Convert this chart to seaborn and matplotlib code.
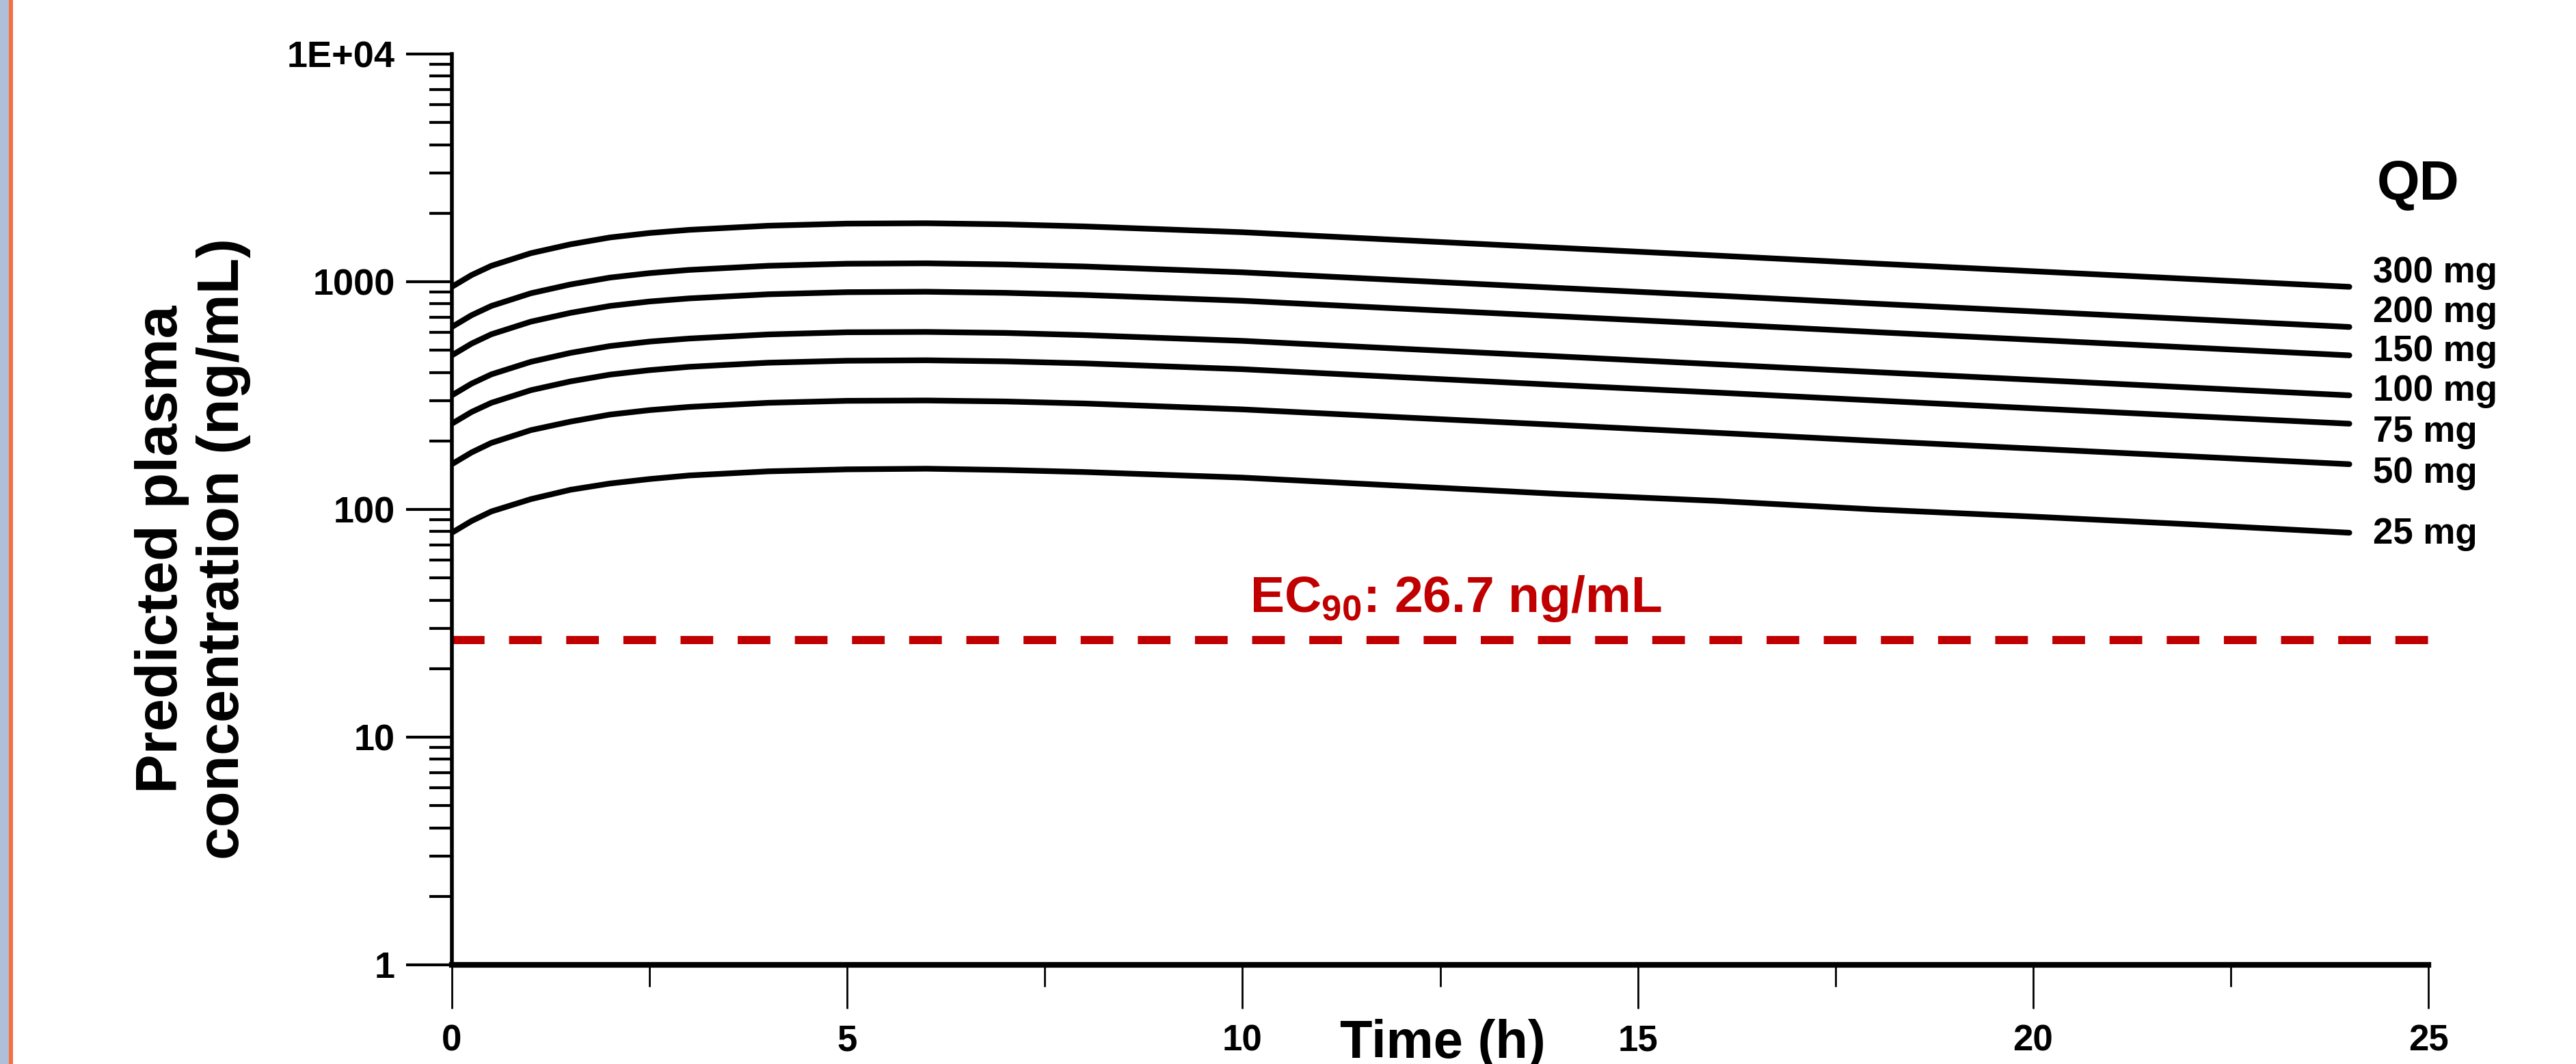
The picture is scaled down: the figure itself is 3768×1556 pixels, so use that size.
import numpy as np
import pandas as pd
import matplotlib
matplotlib.use('Agg')
import matplotlib.pyplot as plt
from matplotlib import font_manager
from matplotlib.patches import Rectangle
from matplotlib.ticker import FixedLocator, FixedFormatter, LogLocator, MultipleLocator, NullFormatter
import seaborn as sns

# data (steady-state QD profiles, ng/mL)
time_h = [0, 0.25, 0.5, 1, 1.5, 2, 2.5, 3, 4, 5, 6, 7, 8, 10, 12, 14, 16, 18, 20, 22, 24]
conc_300 = [950, 1070, 1175, 1335, 1460, 1565, 1637, 1690, 1762, 1800, 1807, 1787, 1750, 1650, 1524, 1409, 1303, 1202, 1112, 1028, 950]
conc_200 = [633, 713, 783, 890, 973, 1043, 1091, 1127, 1175, 1200, 1205, 1191, 1167, 1100, 1016, 939, 869, 801, 741, 685, 633]
conc_150 = [475, 535, 588, 668, 730, 783, 819, 845, 881, 900, 904, 894, 875, 825, 762, 705, 652, 601, 556, 514, 475]
conc_100 = [317, 357, 392, 445, 487, 522, 546, 563, 587, 600, 602, 596, 583, 550, 508, 470, 434, 401, 371, 343, 317]
conc_75 = [238, 268, 294, 334, 365, 391, 409, 423, 441, 450, 452, 447, 438, 413, 381, 352, 326, 301, 278, 257, 238]
conc_50 = [158, 178, 196, 223, 243, 261, 273, 282, 294, 300, 301, 298, 292, 275, 254, 235, 217, 200, 185, 171, 158]
conc_25 = [79, 89, 98, 111, 122, 130, 136, 141, 147, 150, 151, 149, 146, 138, 127, 117, 109, 100, 93, 86, 79]
dose_labels = ['300 mg', '200 mg', '150 mg', '100 mg', '75 mg', '50 mg', '25 mg']
ec90 = 26.7
y_ticks = [1, 10, 100, 1000, 10000]
y_ticklabels = ['1', '10', '100', '1000', '1E+04']
x_ticks = [0, 5, 10, 15, 20, 25]

# where the dose labels sit on the right (stacked, not at the curve ends)
label_y = [1095, 735, 493, 331, 218, 144, 78]

sns.set_style('ticks')
names = {f.name for f in font_manager.fontManager.ttflist}
narrow = 'Liberation Sans Narrow' if 'Liberation Sans Narrow' in names else 'Liberation Sans'
plt.rcParams['font.family'] = ['Liberation Sans', 'DejaVu Sans']
plt.rcParams['text.color'] = 'black'
plt.rcParams['mathtext.fontset'] = 'custom'
plt.rcParams['mathtext.rm'] = narrow
plt.rcParams['mathtext.bf'] = narrow + ':bold'

all_conc = [conc_300, conc_200, conc_150, conc_100, conc_75, conc_50, conc_25]
df = pd.DataFrame({
    'time': time_h * len(dose_labels),
    'conc': np.concatenate(all_conc),
    'dose': np.repeat(dose_labels, len(time_h)),
})

fig = plt.figure(figsize=(18.84, 7.78), dpi=200)
ax = fig.add_axes([0.1754, 0.0932, 0.7673, 0.856])

sns.lineplot(data=df, x='time', y='conc', hue='dose', hue_order=dose_labels,
             palette=['black'] * len(dose_labels), linewidth=3.0, legend=False, ax=ax)
ax.set_yscale('log')
ax.set_xlim(0, 25)
ax.set_ylim(1, 1e4)

ax.axhline(ec90, color='#C00000', lw=4.3, dashes=(4, 3))

sns.despine(ax=ax)
ax.spines['left'].set_linewidth(2.0)
ax.spines['bottom'].set_linewidth(3.0)
ax.spines['left'].set_color('black')
ax.spines['bottom'].set_color('black')

ax.yaxis.set_major_locator(FixedLocator(y_ticks))
ax.yaxis.set_major_formatter(FixedFormatter(y_ticklabels))
ax.yaxis.set_minor_locator(LogLocator(base=10, subs=range(2, 10)))
ax.yaxis.set_minor_formatter(NullFormatter())
ax.xaxis.set_major_locator(FixedLocator(x_ticks))
ax.xaxis.set_minor_locator(MultipleLocator(2.5))

ax.tick_params(axis='both', which='both', colors='black')
ax.tick_params(axis='y', which='major', direction='out', length=24, width=1.5, pad=6)
ax.tick_params(axis='y', which='minor', direction='out', length=12, width=1.5)
ax.tick_params(axis='x', which='major', direction='out', length=23, width=1.0, pad=8)
ax.tick_params(axis='x', which='minor', direction='out', length=11.5, width=1.0)
for lab in ax.get_yticklabels():
    lab.set_fontfamily(narrow)
    lab.set_fontsize(19.5)
    lab.set_fontweight('bold')
for lab in ax.get_xticklabels():
    lab.set_fontfamily(narrow)
    lab.set_fontsize(19)
    lab.set_fontweight('bold')
ax.set_xlabel('')
ax.set_ylabel('')

ax.annotate('Time (h)', xy=(12.53, -0.059), xycoords=('data', 'axes fraction'),
            ha='center', va='top', fontsize=28, fontweight='bold', family=narrow,
            color='black', annotation_clip=False)
fig.text(282 / 3768, 1 - 803 / 1556, 'Predicted plasma\nconcentration (ng/mL)',
         rotation=90, ha='center', va='center', fontsize=31, fontweight='bold',
         linespacing=1.15, color='black')

ax.text(12.7, 35.5, r'EC$_{\mathbf{90}}$: 26.7 ng/mL', color='#C00000', ha='center',
        va='baseline', fontsize=27, fontweight='bold', family=narrow)

for lab, yv in zip(dose_labels, label_y):
    ax.text(24.3, yv, lab, ha='left', va='center', fontsize=19, fontweight='bold',
            color='black', clip_on=False)
ax.text(24.35, 2643, 'QD', ha='left', va='center', fontsize=29, fontweight='bold',
        color='black', clip_on=False)

# screenshot edge strips on the left
fig.add_artist(Rectangle((0, 0), 13 / 3768, 1, transform=fig.transFigure, color='#afbfda', lw=0))
fig.add_artist(Rectangle((13 / 3768, 0), 6 / 3768, 1, transform=fig.transFigure, color='#f4703f', lw=0))

fig.savefig('out.png', dpi=200)
